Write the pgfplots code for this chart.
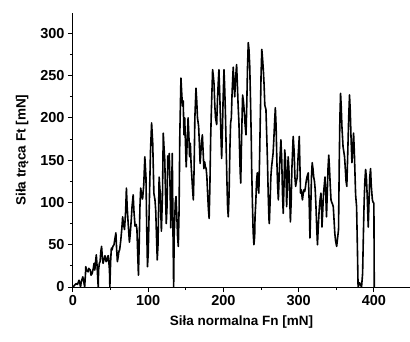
\documentclass[border=0pt]{standalone}
\usepackage{fontspec}
\setmainfont{Liberation Sans}
\usepackage{pgfplots}
\pgfplotsset{compat=1.18}
\begin{document}
\begin{tikzpicture}
\useasboundingbox (-73pt,-54pt) rectangle (337pt,287pt);
\begin{axis}[
  scale only axis,
  width=337pt, height=274pt,
  xmin=0, xmax=448, ymin=0, ymax=324,
  axis x line*=bottom, axis y line*=left,
  axis line style={line width=1pt},
  xtick={0,100,200,300,400},
  ytick={0,50,100,150,200,250,300},
  minor tick num=1,
  tick align=outside,
  major tick length=5pt, minor tick length=3pt,
  tick style={line width=1pt, black},
  /pgf/number format/assume math mode=true,
  tick label style={font=\fontsize{14.5}{16}\selectfont\bfseries},
  label style={font=\fontsize{13.5}{16}\selectfont\bfseries},
  xlabel={Siła normalna Fn [mN]},
  ylabel={Siła trąca Ft [mN]},
  xlabel style={yshift=-3pt},
  ylabel style={yshift=5pt},
]
\addplot[black, line width=1.6pt, line join=round, mark=none] table {
x y
0 0
2 2
4 4
6 3
8 8
9 5
10 0
11 6
13 12
14 8
15.5 0
16.5 14
17 24
18 20
20 18
21 22
23 20
24 14
25.5 16
27 22
28 28
29 20
30 30
31 38
32 25
33.5 0
34 20
35 28
36 30
37 42
38 48
39 35
40 28
41 32
42.5 37
44 30
45 31
46 36
47 37
48.5 20
49 0
50 30
51 46
52 44
53 48
54.5 50
55.5 56
57 64
58 45
59 30
60 35
61 42
62 44
63.5 55
65 70
66 83
67 75
68.5 68
70 90
71 117
72 95
73.5 73
75 53
76 62
77.5 80
78.5 95
80 109
81 90
82.5 72
84 74
85 68
86 40
87 14
88 50
89 95
90 117
91 110
92.5 104
94 120
95.5 154
97 130
98 70
99 24
100 40
101 80
102 120
103 160
104.5 194
106 170
107.5 111
109 103
110 90
111 60
112 32
113 50
114.5 130
116 110
117.5 66
119 110
120 182
121 165
122 150
123 110
124 75
125 95
126 155
127 140
128 158
129 120
130 70
131 110
132 158
133 60
133.8 0
134.5 60
136 100
137 107
138 85
139 60
140 48
141 90
142 180
143.5 247
144.5 230
145.5 214
146.5 220
147.5 180
148.5 200
149.5 170
150.5 142
151.5 165
153 200
154 180
155 154
156 170
157 145
158 130
159 115
160 103
161 140
162 200
163.5 235
164.5 220
165.5 200
167 190
168 170
169 146
170 160
171 172
172 180
173 160
174 140
175 148
176 142
177 140
178 130
179 110
180 92
181 81
182 120
183 176
184 210
185.6 257
186.5 250
187.5 240
188.5 215
189.5 200
191 192
192 220
193 240
194 257
195 230
196 200
197 170
197.6 152
198.5 180
199.5 220
200.7 257
201.5 240
202.5 210
203.5 170
204.5 130
205.5 95
206.4 83
207.5 110
208.5 160
209.5 194
210.5 200
211.5 230
213 260
214 240
215 225
216 245
217.5 263
218.5 240
219.5 215
220.6 194
221.5 160
222.3 135
223 123
224 170
225 210
225.5 227
226.5 220
227.5 210
228.5 195
230 180
231 215
232 260
233 289
234 280
235 260
236 220
237 175
237.5 142
238.5 100
239.5 65
240.5 50
241.5 60
242 83
243 100
244 125
245 135
246 120
247 111
248 150
249 200
250 250
251 281
252 270
253 257
254 240
255 215
256.5 210
257.5 180
258.5 150
259.5 110
260.5 80
261 75
262 100
263 130
264 142
265 150
266 158
267 175
268 195
269 212
270 190
271 150
272 120
273 103
274 130
275 150
276.4 174
277.5 150
278.5 110
279.5 87
280.5 120
281.5 162
282.5 150
283.5 120
284 95
285 120
286 154
287 140
288 110
289 77
290 100
291 140
292.7 178
294 160
295 130
296 119
297 125
298 129
299 150
300.8 178
301.5 150
302.5 111
303.5 115
305 103
306 110
307 115
308 113
309 118
310 125
311 130
312.7 135
314 100
315 58
316 90
317 130
318 147
319 140
320 130
321 125
322 115
323 95
324 70
325 50
326 70
327 87
328 100
329.6 111
330.5 90
331 71
332 90
333 110
334 120
335 130
336 110
337 83
338 110
339 140
340 156
341 140
342 120
343 103
344 100
345 98
346 95
347 80
348 64
349 55
350.5 48
351.5 56
353 68
354 150
354.8 200
355.7 229
356.5 215
357.5 190
359 166
360 160
361 154
362 140
363 125
364 119
365 150
366.5 200
367.6 227
368.5 210
369.5 180
370.8 147
372 165
373 182
374 160
375 130
375.7 109
377 95
378 50
379 0
381 5
383.6 0
385 16
386 60
387 100
388 125
389 139
390 130
391 110
392.5 71
393.5 100
394.5 130
395.6 140
396.5 120
398 103
399 100
400 99
400.5 0
};
\end{axis}
\end{tikzpicture}
\end{document}
